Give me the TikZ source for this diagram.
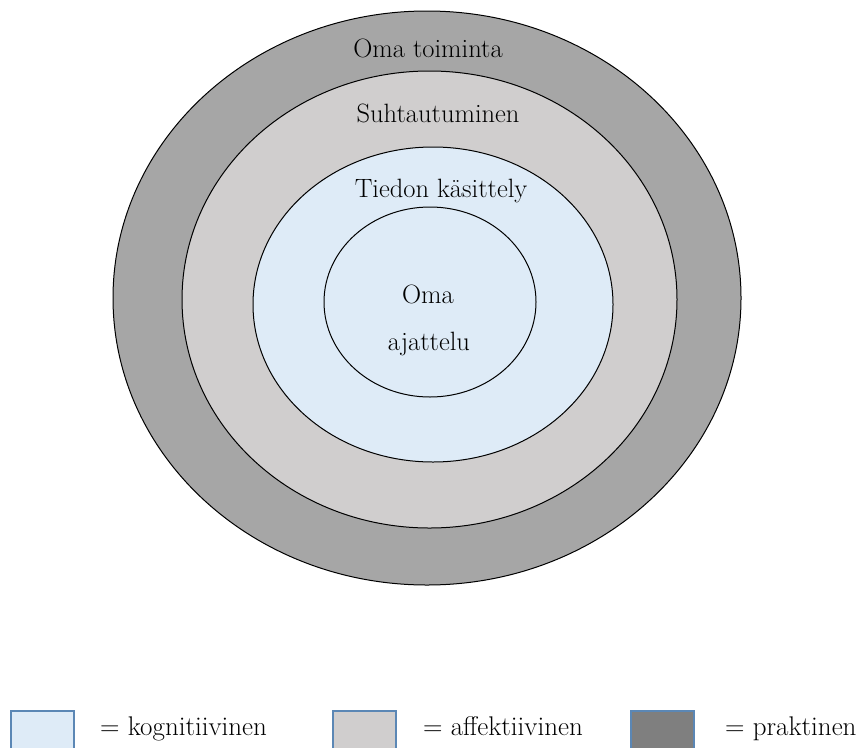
\documentclass[tikz,border=0pt]{standalone}
\usetikzlibrary{shapes.geometric}
\definecolor{kogn}{HTML}{DEEBF7}
\definecolor{affe}{HTML}{D0CECE}
\definecolor{ring}{HTML}{A6A6A6}
\definecolor{prak}{HTML}{7F7F7F}
\definecolor{lgborder}{HTML}{5B87B5}
\tikzset{
  ring/.style={ellipse, draw=black, line width=1pt, inner sep=0pt, outer sep=0pt},
  lbl/.style={anchor=base, inner sep=0pt, font=\fontsize{26.5}{30}\selectfont},
  legbox/.style={draw=lgborder, line width=1.5pt, inner sep=0pt, minimum width=63pt, minimum height=42pt, anchor=north west},
  legtxt/.style={anchor=base west, inner sep=0pt, font=\fontsize{27}{30}\selectfont}
}
\begin{document}
\begin{tikzpicture}[x=1pt,y=-1pt]
\useasboundingbox[fill=white] (0,0) rectangle (858,747);
\node[ring, fill=ring, minimum width=628pt, minimum height=574pt] (e1) at (427,298) {};
\node[ring, fill=affe, minimum width=495pt, minimum height=457pt] (e2) at (429.5,299.5) {};
\node[ring, fill=kogn, minimum width=360pt, minimum height=315pt] (e3) at (433,304.5) {};
\node[ring, fill=kogn, minimum width=212pt, minimum height=190pt] (e4) at (430,302) {};
\node[lbl] (t1) at (428,57) {Oma toiminta};
\node[lbl] (t2) at (438,122) {Suhtautuminen};
\node[lbl] (t3) at (441,197) {Tiedon käsittely};
\node[lbl] (t4) at (428,303) {Oma};
\node[lbl] (t5) at (429,350) {ajattelu};
\begin{scope}
\clip (0,0) rectangle (858,747);
\node[legbox, fill=kogn] (b1) at (10,710) {};
\node[legbox, fill=affe] (b2) at (332,710) {};
\node[legbox, fill=prak] (b3) at (630,710) {};
\end{scope}
\node[legtxt] (l1) at (100,735) {= kognitiivinen};
\node[legtxt] (l2) at (423,735) {= affektiivinen};
\node[legtxt] (l3) at (725,735) {= praktinen};
\end{tikzpicture}
\end{document}
